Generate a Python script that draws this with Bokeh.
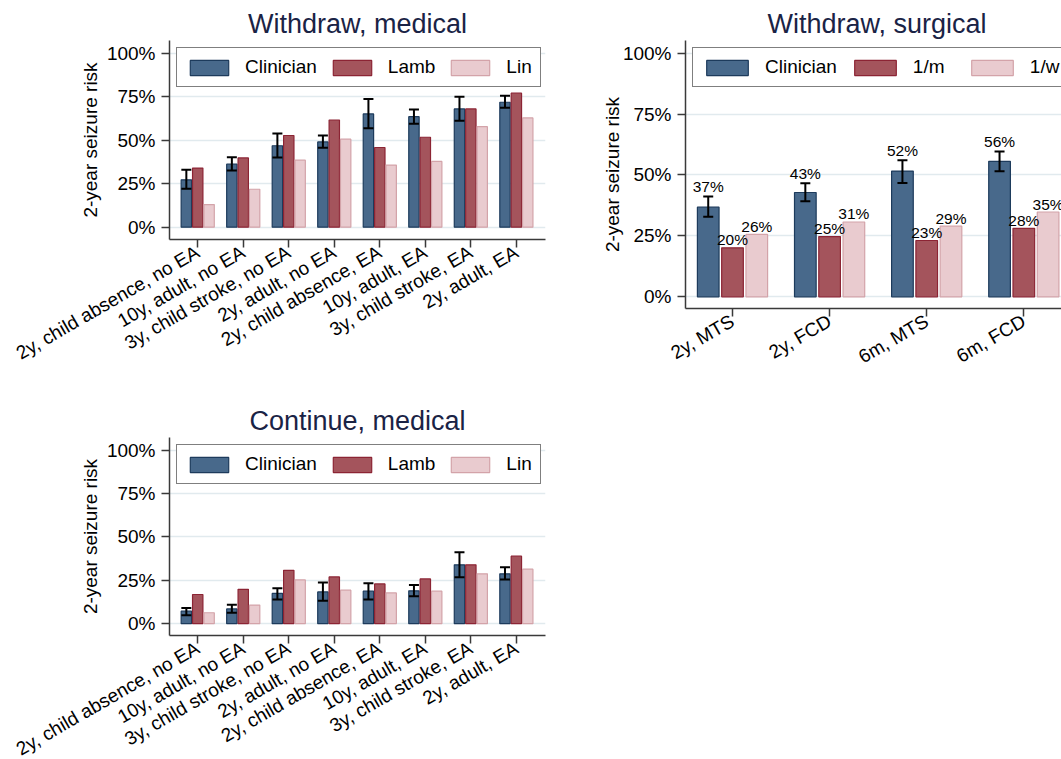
import math
from bokeh.plotting import figure
from bokeh.models import (Range1d, FixedTicker, Whisker, ColumnDataSource, Legend,
                          LegendItem, TeeHead, PrintfTickFormatter)
from bokeh.layouts import row, column
from bokeh.transform import dodge
from bokeh.embed import file_html
from bokeh.resources import INLINE
from bokeh.core.properties import value

# ---------------- data ----------------
med_categories = ["2y, child absence, no EA", "10y, adult, no EA", "3y, child stroke, no EA",
                  "2y, adult, no EA", "2y, child absence, EA", "10y, adult, EA",
                  "3y, child stroke, EA", "2y, adult, EA"]
surg_categories = ["2y, MTS", "2y, FCD", "6m, MTS", "6m, FCD"]

# Withdraw, medical
wm_clinician = [27.2, 36.2, 46.8, 49.0, 65.1, 63.5, 68.0, 71.8]
wm_clin_low = [22.1, 32.6, 40.1, 45.6, 56.9, 59.5, 61.2, 68.6]
wm_clin_high = [33.0, 40.2, 53.8, 52.7, 73.7, 67.7, 75.0, 75.5]
wm_lamb = [34.0, 39.8, 52.7, 61.6, 45.8, 51.7, 68.0, 77.0]
wm_lin = [13.0, 21.8, 38.5, 50.6, 35.7, 37.8, 57.8, 62.8]

# Continue, medical
cm_clinician = [7.2, 8.5, 17.4, 18.3, 18.7, 18.9, 33.9, 28.7]
cm_clin_low = [4.9, 6.3, 13.9, 13.2, 13.9, 15.8, 26.8, 25.5]
cm_clin_high = [9.0, 10.9, 20.4, 23.7, 23.3, 22.3, 41.2, 32.5]
cm_lamb = [16.8, 19.8, 30.7, 26.9, 22.9, 25.8, 33.9, 38.9]
cm_lin = [6.3, 10.7, 25.2, 19.3, 17.7, 18.7, 28.7, 31.4]

# Withdraw, surgical
ws_clinician = [36.8, 42.8, 51.6, 55.6]
ws_clin_low = [32.9, 39.2, 46.7, 51.5]
ws_clin_high = [41.2, 46.6, 56.0, 59.6]
ws_per_month = [20.1, 24.7, 23.1, 28.1]
ws_per_week = [25.6, 30.7, 29.0, 34.8]

med_names = ["Clinician", "Lamb", "Lin"]
surg_names = ["Clinician", "1/m", "1/w"]
y_ticks = [0, 25, 50, 75, 100]
y_title = "2-year seizure risk"

# ---------------- style ----------------
FONT = "Liberation Sans"
TITLE_COLOR = "#1a2345"
FILLS = ["#48698b", "#a4545c", "#e9cbcf"]
LINES = ["#1d3b5c", "#8c2434", "#d3a3a9"]
AXIS_COLOR = "#3a3a3a"
GRID_COLOR = "#e1eaee"


def build(title, cats, clin, lo, hi, s2, s3, names, *, x_range, y_range, frame_w, frame_h,
          left, top, right, bottom, bar_w, legend_kw, title_align="center", title_offset=0,
          labels=False, ylabel_standoff=3):
    p = figure(output_backend="svg", toolbar_location=None,
               x_range=Range1d(*x_range), y_range=Range1d(*y_range),
               frame_width=frame_w, frame_height=frame_h,
               min_border_left=left, min_border_right=right,
               min_border_top=top, min_border_bottom=bottom,
               outline_line_color=None, background_fill_color="white",
               border_fill_color="white")
    p.title.text = title
    p.title.text_font = FONT
    p.title.text_font_size = "27px"
    p.title.text_font_style = "normal"
    p.title.text_color = TITLE_COLOR
    p.title.align = title_align
    p.title.offset = title_offset
    p.title.standoff = 4

    idx = list(range(len(cats)))
    data = dict(x=idx, clin=clin, lo=lo, hi=hi, s2=s2, s3=s3)
    if labels:
        data["clin_lab"] = [f"{v:.0f}%" for v in clin]
        data["s2_lab"] = [f"{v:.0f}%" for v in s2]
        data["s3_lab"] = [f"{v:.0f}%" for v in s3]
    src = ColumnDataSource(data)

    rs = []
    for off, col, fc, lc in zip([-0.25, 0.0, 0.25], ["clin", "s2", "s3"], FILLS, LINES):
        r = p.vbar(x=dodge("x", off), top=col, bottom=0, width=bar_w, source=src,
                   fill_color=fc, line_color=lc, line_width=1.2)
        rs.append(r)

    wk = Whisker(base=dodge("x", -0.25), upper="hi", lower="lo", source=src,
                 line_color="black", line_width=2, level="annotation",
                 upper_head=TeeHead(size=10, line_color="black", line_width=2),
                 lower_head=TeeHead(size=10, line_color="black", line_width=2))
    p.add_layout(wk)

    if labels:
        common = dict(source=src, text_align="center", text_baseline="alphabetic",
                      text_font=value(FONT), text_font_size="15.5px", text_color="black")
        p.text(x=dodge("x", -0.25), y="hi", text="clin_lab", y_offset=-10, **common)
        p.text(x=dodge("x", 0.0), y="s2", text="s2_lab", y_offset=-8, **common)
        p.text(x=dodge("x", 0.25), y="s3", text="s3_lab", y_offset=-8, **common)

    legend = Legend(items=[LegendItem(label=n, renderers=[r]) for n, r in zip(names, rs)],
                    orientation="horizontal", location="top_left",
                    label_text_font=FONT, label_text_font_size="19px", label_text_color="black",
                    border_line_color="black", border_line_width=1.5,
                    background_fill_color="white", background_fill_alpha=1.0,
                    **legend_kw)
    p.add_layout(legend)

    # axes
    p.xaxis.ticker = FixedTicker(ticks=idx)
    p.xaxis.major_label_overrides = {i: c for i, c in zip(idx, cats)}
    p.xaxis.major_label_orientation = math.pi / 6
    p.yaxis.ticker = FixedTicker(ticks=y_ticks)
    p.yaxis.formatter = PrintfTickFormatter(format="%d%%")
    p.yaxis.axis_label = y_title
    for ax in (p.xaxis[0], p.yaxis[0]):
        ax.axis_line_color = AXIS_COLOR
        ax.axis_line_width = 1.5
        ax.major_tick_line_color = AXIS_COLOR
        ax.major_tick_line_width = 1.5
        ax.major_tick_out = 8
        ax.major_tick_in = 0
        ax.minor_tick_line_color = None
        ax.major_label_text_font = FONT
        ax.major_label_text_font_size = "19px"
        ax.major_label_text_color = "black"
    p.xaxis.major_label_standoff = 3
    p.yaxis.major_label_standoff = 6
    p.yaxis.axis_label_text_font = FONT
    p.yaxis.axis_label_text_font_size = "19px"
    p.yaxis.axis_label_text_font_style = "normal"
    p.yaxis.axis_label_text_color = "black"
    p.yaxis.axis_label_standoff = ylabel_standoff
    p.xgrid.grid_line_color = None
    p.ygrid.grid_line_color = GRID_COLOR
    p.ygrid.grid_line_width = 1.3
    return p


med_legend = dict(margin=7, padding=8, spacing=11, glyph_width=48, glyph_height=19,
                  label_standoff=12)
surg_legend = dict(margin=7, padding=8, spacing=12, glyph_width=52, glyph_height=19,
                   label_standoff=12, label_width=41)

p1 = build("Withdraw, medical", med_categories, wm_clinician, wm_clin_low, wm_clin_high,
           wm_lamb, wm_lin, med_names, x_range=(-0.62, 7.64), y_range=(-7.07, 107.3),
           frame_w=376, frame_h=199, left=169, top=40, right=15, bottom=140,
           bar_w=0.228, legend_kw=med_legend)

p3 = build("Continue, medical", med_categories, cm_clinician, cm_clin_low, cm_clin_high,
           cm_lamb, cm_lin, med_names, x_range=(-0.62, 7.64), y_range=(-6.8, 107.2),
           frame_w=376, frame_h=198, left=169, top=58, right=15, bottom=100,
           bar_w=0.228, legend_kw=med_legend)

p2 = build("Withdraw, surgical", surg_categories, ws_clinician, ws_clin_low, ws_clin_high,
           ws_per_month, ws_per_week, surg_names, x_range=(-0.484, 3.388),
           y_range=(-4.81, 105.2), frame_w=376, frame_h=268, left=125, top=40, right=0,
           bottom=80, bar_w=0.223, legend_kw=surg_legend, title_align="left",
           title_offset=82, labels=True, ylabel_standoff=-3)

layout = row(column(p1, p3), p2)
open("out.html", "w").write(file_html(layout, INLINE))
